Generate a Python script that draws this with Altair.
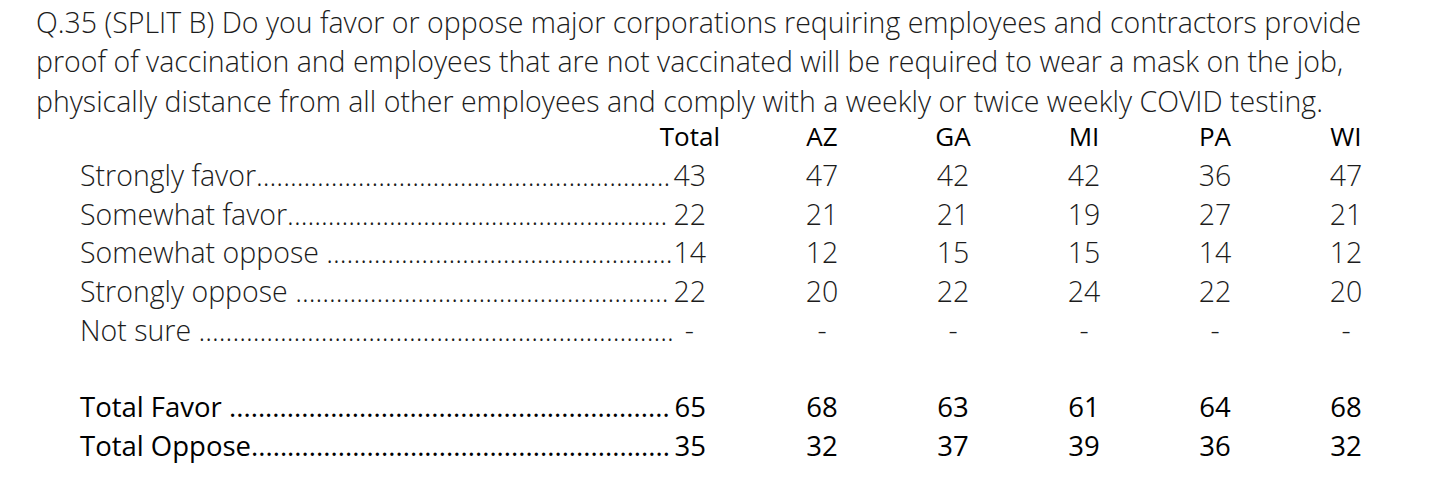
import altair as alt
import pandas as pd

title_lines = [
    "Q.35 (SPLIT B) Do you favor or oppose major corporations requiring employees and contractors provide",
    "proof of vaccination and employees that are not vaccinated will be required to wear a mask on the job,",
    "physically distance from all other employees and comply with a weekly or twice weekly COVID testing.",
]
states = ["AZ", "GA", "MI", "PA", "WI"]
row_labels = ["Strongly favor", "Somewhat favor", "Somewhat oppose", "Strongly oppose",
              "Not sure", "Total Favor", "Total Oppose"]
summary_rows = ["Total Favor", "Total Oppose"]
total = ["43", "22", "14", "22", "-", "65", "35"]
az = ["47", "21", "12", "20", "-", "68", "32"]
ga = ["42", "21", "15", "22", "-", "63", "37"]
mi = ["42", "19", "15", "24", "-", "61", "39"]
pa = ["36", "27", "14", "22", "-", "64", "36"]
wi = ["47", "21", "12", "20", "-", "68", "32"]
leader_gap = ["", "", " ", " ", " ", " ", ""]

FONT = "Open Sans"
LIGHT_SIZE = 28.5
BOLD_SIZE = 27.5
HEAD_SIZE = 26
LIGHT = "#1c1c1c"

y_domain = ["header"] + row_labels[:5] + ["gap"] + row_labels[5:]
yenc = alt.Y("row:N", scale=alt.Scale(domain=y_domain, range=[18, 328], padding=0), axis=None)

# labels with dot leaders
lab = pd.DataFrame({
    "row": row_labels,
    "text": [l + g + "." * 220 for l, g in zip(row_labels, leader_gap)],
    "summary": [r in summary_rows for r in row_labels],
})

def body(df, **kw):
    base = alt.Chart(df)
    light = base.transform_filter("!datum.summary").mark_text(
        font=FONT, fontSize=LIGHT_SIZE, fontWeight=300, color=LIGHT, **kw)
    bold = base.transform_filter("datum.summary").mark_text(
        font=FONT, fontSize=BOLD_SIZE, fontWeight=400, color="#000000", **kw)
    return light, bold

l1, l2 = body(lab, align="left", baseline="middle", limit=594, ellipsis=".")
labels = alt.layer(
    l1.encode(x=alt.value(44), y=yenc, text="text:N"),
    l2.encode(x=alt.value(44), y=yenc, text="text:N"),
)

tot = pd.DataFrame({"row": row_labels, "val": total,
                    "summary": [r in summary_rows for r in row_labels]})
tot_num = alt.Chart(tot).transform_filter("datum.val != '-'")
tot_dash = alt.Chart(tot).transform_filter("datum.val == '-'")
totals = alt.layer(
    tot_num.transform_filter("!datum.summary").mark_text(
        font=FONT, fontSize=LIGHT_SIZE, fontWeight=300, color=LIGHT, align="right", baseline="middle"
    ).encode(x=alt.value(670), y=yenc, text="val:N"),
    tot_num.transform_filter("datum.summary").mark_text(
        font=FONT, fontSize=BOLD_SIZE, fontWeight=400, color="#000000", align="right", baseline="middle"
    ).encode(x=alt.value(670), y=yenc, text="val:N"),
    tot_dash.mark_text(
        font=FONT, fontSize=LIGHT_SIZE, fontWeight=300, color=LIGHT, align="right", baseline="middle", dx=-12
    ).encode(x=alt.value(670), y=yenc, text="val:N"),
)

recs = []
for st, vals in zip(states, [az, ga, mi, pa, wi]):
    for r, v in zip(row_labels, vals):
        recs.append({"state": st, "row": r, "val": v, "summary": r in summary_rows})
sdf = pd.DataFrame(recs)
xs = alt.X("state:N", scale=alt.Scale(domain=states, range=[786, 1310], padding=0), axis=None)
s1, s2 = body(sdf, align="center", baseline="middle")
state_vals = alt.layer(
    s1.encode(x=xs, y=yenc, text="val:N"),
    s2.encode(x=xs, y=yenc, text="val:N"),
)

hdr_states = alt.Chart(pd.DataFrame({"state": states, "row": ["header"] * 5})).mark_text(
    font=FONT, fontSize=HEAD_SIZE, fontWeight=400, color="#000000", align="center", baseline="middle"
).encode(x=xs, y=yenc, text="state:N")
hdr_total = alt.Chart(pd.DataFrame({"label": ["Total"], "row": ["header"]})).mark_text(
    font=FONT, fontSize=HEAD_SIZE, fontWeight=400, color="#000000", align="right", baseline="middle"
).encode(x=alt.value(684), y=yenc, text="label:N")

chart = alt.layer(labels, totals, state_vals, hdr_states, hdr_total).properties(
    width=1404, height=370,
    padding={"left": 28, "top": 112, "right": 0, "bottom": 0},
    autosize="none",
    background="white",
    title=alt.TitleParams(
        text=title_lines, anchor="start", frame="group", font=FONT, fontSize=LIGHT_SIZE,
        fontWeight=300, color=LIGHT, lineHeight=39.5, offset=3,
    ),
).configure_view(stroke=None)

chart.save("out.html", embed_options={"renderer": "svg", "actions": False})
